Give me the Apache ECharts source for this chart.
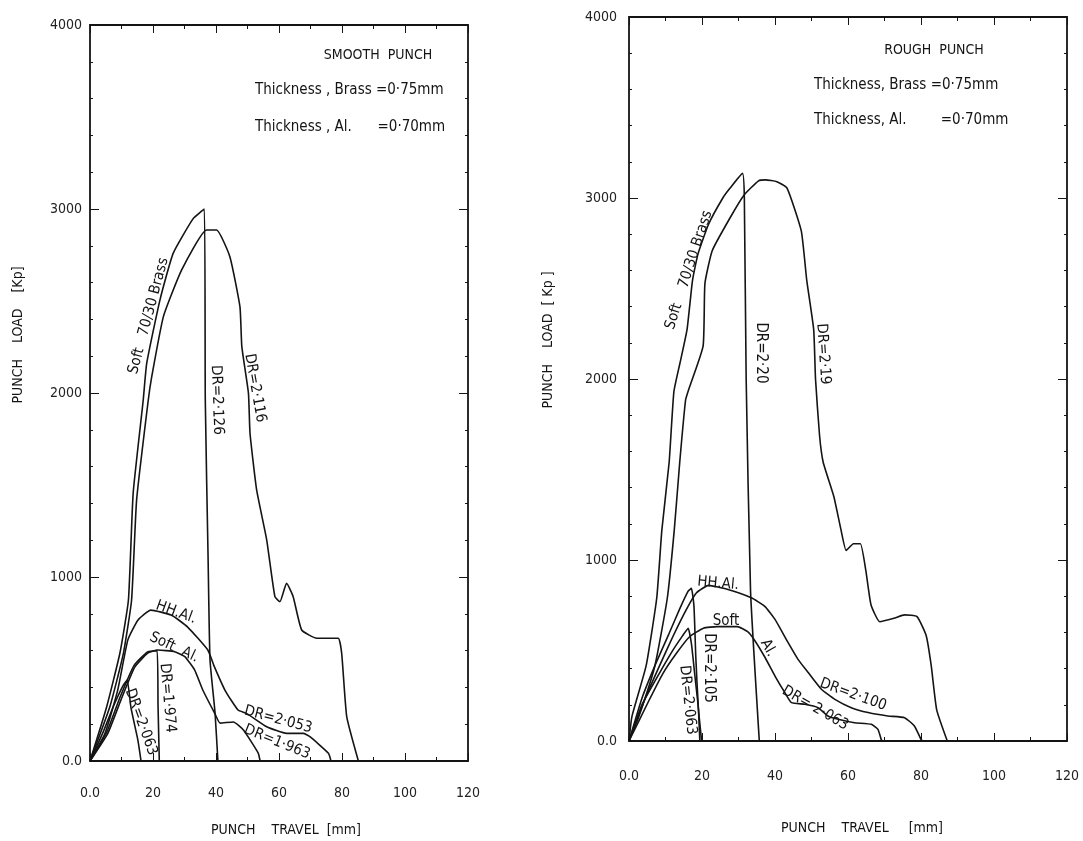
<!DOCTYPE html>
<html>
<head>
<meta charset="utf-8">
<title>Punch load vs punch travel</title>
<script src="https://cdn.jsdelivr.net/npm/echarts/dist/echarts.min.js"></script>
<style>
  html, body { margin: 0; padding: 0; background: #fff; }
  #chart { width: 1083px; height: 841px; }
</style>
</head>
<body>
<div id="chart"></div>
<script>
// tick labels
var xTickLabels = ['0.0', '20', '40', '60', '80', '100', '120'];
var yTickLabels = ['0.0', '1000', '2000', '3000', '4000'];

// ---- smooth punch: [travel mm, load Kp] ----
var smoothBrass2126 = [[0,0],[5.3,295],[9.5,587],[12.2,875],[13.7,1455],[16.9,1962],[18,2161],[22.2,2505],[26.4,2759],[32.8,2949],[36.3,3000],
  [36.6,1960],[37.5,1092],[38.1,549],[39.7,261],[40.6,0]];
var smoothBrass2116 = [[0,0],[6.3,295],[10.6,585],[13.2,875],[14.8,1419],[18.5,1962],[19.6,2089],[23.3,2415],[29.1,2669],[37,2886],[40.2,2886],
  [44.4,2741],[47.6,2469],[48.2,2252],[50.3,1998],[50.8,1781],[52.9,1473],[56.1,1201],[58.7,893],[60.3,866],[62.4,966],[64.5,893],
  [67.2,712],[72,667],[78.8,667],[79.9,585],[81.5,241],[85.2,0]];
var smoothHHAl2053 = [[0,0],[4.8,152],[8.8,385],[12,657],[15.2,765],[19.3,820],[25.8,793],[31,728],[37.4,603],[39.3,520],[43,380],
  [47,277],[49.7,259],[56.1,186],[62.4,150],[67.7,150],[69.8,132],[75.7,42],[76.5,0]];
var smoothSoftAl1963 = [[0,0],[5.7,152],[9.8,331],[14.2,510],[18.3,586],[21.5,603],[26.9,594],[30.1,567],[33.2,495],[35.8,386],
  [39.6,259],[41.3,206],[45.5,212],[48.7,168],[53.4,43],[54,0]];
var smoothSoftAl1974 = [[0,0],[5.4,160],[9.5,345],[14,520],[18.2,592],[21.3,600],[21.6,300],[22,0]];
var smoothAl2063 = [[0,0],[4,150],[7.5,300],[10.5,410],[11.8,440],[13,290],[15.2,114],[16.2,0]];

// ---- rough punch ----
var roughBrass220 = [[0,0],[0.8,135],[4.7,416],[7.6,790],[9,1165],[11,1540],[12.3,1930],[14,2091],[15.9,2273],[17.4,2545],[18.9,2691],
  [21.8,2855],[25.7,3000],[27.7,3055],[31.1,3136],[31.6,3000],[32.1,2000],[33.3,828],[35.7,0]];
var roughBrass219 = [[0,0],[2.7,135],[7.1,416],[10.5,790],[12.4,1165],[13.9,1540],[15.5,1884],[16.4,1945],[20.3,2182],[20.8,2527],
  [22.8,2709],[27.7,2891],[31.6,3018],[35.5,3095],[37.4,3100],[40.5,3090],[43.3,3055],[47.2,2818],[48.7,2545],[50.6,2273],[51.1,2000],
  [52.2,1689],[53.2,1540],[56.1,1352],[58.1,1165],[59.5,1053],[61.5,1090],[63.4,1090],[64.9,940],[66.3,753],[68.7,659],[72.6,678],
  [75.5,697],[78.9,687],[81.4,584],[82.8,416],[84.3,172],[87.2,0]];
var roughHHAl2105 = [[0,0],[3.6,239],[7.3,426],[11,595],[13.8,726],[16.2,828],[17.1,843],[17.8,744],[18.3,464],[19,183],[19.9,0]];
var roughHHAl2100 = [[0,0],[4.5,239],[8.2,408],[12,576],[15.7,726],[18.5,819],[21.8,860],[26.9,838],[33.5,791],[37.2,744],[40,672],
  [43.6,543],[46.3,451],[49.1,378],[52.7,286],[56.4,230],[60.9,184],[65.5,157],[70.9,138],[75.5,129],[78.2,83],[80,9],[80.5,0]];
var roughSoftAlA = [[0,0],[3.6,202],[8.2,370],[12,501],[14.8,585],[16.2,623],[17.1,538],[18,370],[19,183],[19.4,0]];
var roughSoftAlB = [[0,0],[5.4,221],[9.2,370],[12.9,482],[16.6,576],[20.4,623],[24.1,632],[29.7,632],[32.5,604],[34.4,557],[37.2,464],
  [40,359],[42.7,267],[44.5,212],[48.2,203],[51.8,184],[54.5,138],[57.3,120],[61.8,101],[66.4,92],[68.2,64],[69.1,9],[69.3,0]];

// curve notes: text, anchor [mm, Kp], rotation deg
var smoothNotes = [
  ['Soft   70/30 Brass', 18.6, 2419, 75], ['DR=2·126', 40.3, 1962, -88], ['DR=2·116', 52.4, 2027, -80],
  ['HH.Al.', 27.3, 808, -20], ['Soft  Al.', 26.7, 617, -25], ['DR=1·974', 24.6, 342, -85],
  ['DR=2·063', 16.2, 212, -70], ['DR=2·053', 59.7, 225, -15], ['DR=1·963', 59.4, 103, -22]
];
var roughNotes = [
  ['Soft    70/30 Brass', 16.4, 2602, 72], ['DR=2·20', 36.2, 2144, -90], ['DR=2·19', 53.2, 2138, -86],
  ['HH.Al.', 24.4, 870, -5], ['Soft', 26.6, 660, 0], ['Al.', 38.1, 514, -60],
  ['DR=2·105', 21.8, 403, -90], ['DR=2·063', 16.1, 226, -84], ['DR=2·100', 61.4, 256, -20], ['DR= 2·063', 51, 182, -30]
];

var FONT = '"DejaVu Sans Condensed", "DejaVu Sans", sans-serif';
var INK = '#141414';

function xAxis(grid, pos, labels, margin) {
  return {
    type: 'value', gridIndex: grid, position: pos, min: 0, max: 120, interval: 20,
    axisLine: { show: true, onZero: false, lineStyle: { color: INK, width: 1.8 } },
    axisTick: { show: true, inside: true, length: 8, lineStyle: { color: INK, width: 1 } },
    minorTick: { show: true, splitNumber: 2, length: 4, lineStyle: { color: INK, width: 1 } },
    splitLine: { show: false },
    axisLabel: {
      show: labels, margin: margin, color: '#222', fontFamily: FONT, fontSize: 14,
      formatter: function (v) { return xTickLabels[Math.round(v / 20)]; }
    }
  };
}
function yAxis(grid, pos, labels, margin) {
  return {
    type: 'value', gridIndex: grid, position: pos, min: 0, max: 4000, interval: 1000,
    axisLine: { show: true, onZero: false, lineStyle: { color: INK, width: 1.8 } },
    axisTick: { show: true, inside: true, length: 9, lineStyle: { color: INK, width: 1 } },
    minorTick: { show: true, splitNumber: 5, length: 3, lineStyle: { color: INK, width: 1 } },
    splitLine: { show: false },
    axisLabel: {
      show: labels, margin: margin, color: '#222', fontFamily: FONT, fontSize: 14,
      formatter: function (v) { return yTickLabels[Math.round(v / 1000)]; }
    }
  };
}
function curve(data, xi) {
  return {
    type: 'line', data: data, xAxisIndex: xi, yAxisIndex: xi, symbol: 'none', smooth: 0.15,
    lineStyle: { color: INK, width: 1.6 }, silent: true
  };
}
function txt(s, x, y, size, opts) {
  var o = {
    type: 'text', x: x, y: y, silent: true,
    style: { text: s, fill: INK, font: size + 'px ' + FONT, textAlign: 'left', textVerticalAlign: 'middle' }
  };
  for (var k in opts) o.style[k] = opts[k];
  return o;
}

var chart = echarts.init(document.getElementById('chart'));
chart.setOption({
  animation: false,
  backgroundColor: '#fff',
  grid: [
    { left: 90, top: 25, width: 378, height: 736 },
    { left: 629, top: 17, width: 438, height: 724 }
  ],
  xAxis: [xAxis(0, 'bottom', true, 25), xAxis(0, 'top', false, 0), xAxis(1, 'bottom', true, 28), xAxis(1, 'top', false, 0)],
  yAxis: [yAxis(0, 'left', true, 8), yAxis(0, 'right', false, 0), yAxis(1, 'left', true, 12), yAxis(1, 'right', false, 0)],
  series: [
    curve(smoothBrass2126, 0), curve(smoothBrass2116, 0), curve(smoothHHAl2053, 0),
    curve(smoothSoftAl1963, 0), curve(smoothSoftAl1974, 0), curve(smoothAl2063, 0),
    curve(roughBrass220, 2), curve(roughBrass219, 2), curve(roughHHAl2105, 2),
    curve(roughHHAl2100, 2), curve(roughSoftAlA, 2), curve(roughSoftAlB, 2)
  ]
});

// header texts, axis names, and curve notes placed through the axes
var g = [
  txt('SMOOTH  PUNCH', 378, 55, 14, { textAlign: 'center' }),
  txt('Thickness , Brass =0·75mm', 255, 90, 15),
  txt('Thickness , Al.      =0·70mm', 255, 127, 15),
  txt('ROUGH  PUNCH', 934, 50, 14, { textAlign: 'center' }),
  txt('Thickness, Brass =0·75mm', 814, 85, 15),
  txt('Thickness, Al.        =0·70mm', 814, 120, 15),
  txt('PUNCH    TRAVEL  [mm]', 286, 830, 14, { textAlign: 'center' }),
  txt('PUNCH    TRAVEL     [mm]', 862, 828, 14, { textAlign: 'center' })
];
var yl = txt('PUNCH    LOAD    [Kp]', 18, 335, 14, { textAlign: 'center' });
yl.rotation = Math.PI / 2;
g.push(yl);
var yr = txt('PUNCH    LOAD  [ Kp ]', 548, 340, 14, { textAlign: 'center' });
yr.rotation = Math.PI / 2;
g.push(yr);

function addNotes(notes, xi) {
  notes.forEach(function (n) {
    var p = chart.convertToPixel({ xAxisIndex: xi, yAxisIndex: xi }, [n[1], n[2]]);
    var t = txt(n[0], p[0], p[1], 15, { textAlign: 'center' });
    t.rotation = n[3] * Math.PI / 180;
    g.push(t);
  });
}
addNotes(smoothNotes, 0);
addNotes(roughNotes, 2);
chart.setOption({ graphic: g });
</script>
</body>
</html>
